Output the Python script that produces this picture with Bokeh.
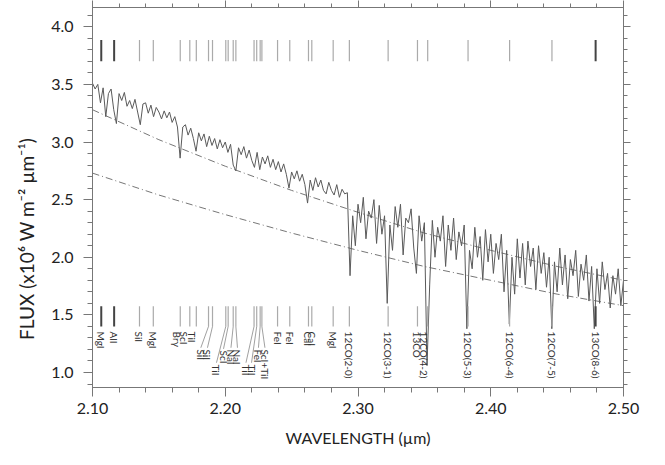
import math
from bokeh.plotting import figure
from bokeh.models import (Range1d, LinearAxis, SingleIntervalTicker,
                          NumeralTickFormatter, ColumnDataSource,
                          CustomJSTickFormatter)
from bokeh.core.properties import value
from bokeh.embed import file_html
from bokeh.resources import INLINE

# ---------------- data ----------------
wave_start = 2.100
wave_step = 0.002
flux = [3.51, 3.46, 3.50, 3.34, 3.47, 3.22, 3.42, 3.46, 3.28, 3.16,
        3.42, 3.36, 3.43, 3.31, 3.36, 3.29, 3.37, 3.26, 3.15, 3.33,
        3.34, 3.25, 3.32, 3.22, 3.30, 3.26, 3.20, 3.27, 3.21, 3.26,
        3.17, 3.22, 3.13, 2.86, 3.13, 3.15, 3.06, 3.12, 3.03, 2.92,
        3.08, 3.01, 3.07, 2.96, 3.05, 2.97, 3.03, 2.94, 3.02, 2.95,
        3.00, 2.91, 2.98, 2.80, 2.75, 2.95, 2.89, 2.96, 2.86, 2.93,
        2.84, 2.78, 2.91, 2.76, 2.87, 2.81, 2.88, 2.78, 2.85, 2.76,
        2.83, 2.74, 2.81, 2.72, 2.60, 2.74, 2.68, 2.75, 2.66, 2.72,
        2.63, 2.47, 2.67, 2.58, 2.69, 2.61, 2.67, 2.58, 2.55, 2.65,
        2.58, 2.54, 2.63, 2.52, 2.59, 2.55,
        2.56, 1.84, 2.36, 2.10, 2.46, 2.30, 2.52, 2.16, 2.40, 2.34,
        2.50, 2.12, 2.45, 2.20, 2.36, 1.60, 2.28, 2.06, 2.44, 2.26,
        2.46, 2.02, 2.34, 2.30, 2.42, 2.08, 1.86, 2.36, 2.14, 2.30,
        1.06, 1.76, 2.32, 2.00, 2.26, 2.14, 2.36, 1.92, 2.28, 2.06,
        2.34, 1.98, 2.22, 2.10, 2.28, 1.38, 2.06, 1.90, 2.26, 2.00,
        2.18, 1.80, 2.24, 1.96, 2.20, 1.86, 2.12, 1.98, 2.20, 1.70,
        2.06, 1.42, 2.00, 1.68, 2.16, 1.82, 2.12, 1.76, 2.14, 1.92,
        2.08, 1.72, 2.10, 1.86, 2.04, 1.74, 2.00, 1.38, 1.96, 1.70,
        2.08, 1.76, 2.02, 1.64, 1.98, 1.84, 2.06, 1.66, 1.94, 1.80,
        2.02, 1.62, 1.92, 1.38, 1.90, 1.60, 1.96, 1.72, 1.86, 1.56,
        1.84, 1.68, 1.90, 1.58, 1.80]
wave = [round(wave_start + i * wave_step, 4) for i in range(len(flux))]

cont_wave = [2.10, 2.15, 2.20, 2.25, 2.30, 2.35, 2.40, 2.45, 2.50]
cont_upper = [3.28, 3.02, 2.79, 2.58, 2.39, 2.21, 2.06, 1.92, 1.80]
cont_lower = [2.73, 2.54, 2.37, 2.21, 2.06, 1.92, 1.80, 1.68, 1.58]

line_names = ["MgI", "AlI", "SiI", "MgI", "Brγ", "ScI", "TiI", "SiI", "SiI",
              "TiI", "ScI", "NaI", "NaI", "TiI", "TiI", "FeI", "ScI+TiI",
              "FeI", "FeI", "CaI", "CaI", "MgI", "12CO(2-0)", "12CO(3-1)",
              "13CO", "12CO(4-2)", "12CO(5-3)", "12CO(6-4)", "12CO(7-5)",
              "13CO(8-6)"]
line_waves = [2.1066, 2.1163, 2.1354, 2.1458, 2.1661, 2.1733, 2.1782, 2.1874,
              2.1904, 2.2004, 2.2022, 2.2060, 2.2080, 2.2217, 2.2237, 2.2263,
              2.2276, 2.2394, 2.2486, 2.2627, 2.2652, 2.2813, 2.2935, 2.3227,
              2.3448, 2.3525, 2.3829, 2.4142, 2.4461, 2.4790]
strong_lines = ["MgI", "AlI", "13CO(8-6)"]

# ---------------- layout of the line labels ----------------
label_x = [2.1066, 2.1163, 2.1354, 2.1458, 2.1635, 2.1693, 2.1753, 2.1816,
           2.1866, 2.1934, 2.1987, 2.2043, 2.2092, 2.2156, 2.2198, 2.2250,
           2.2299, 2.2394, 2.2486, 2.2620, 2.2657, 2.2813, 2.2935, 2.3227,
           2.3441, 2.3499, 2.3829, 2.4142, 2.4461, 2.4790]
label_top = [1.355] * len(line_names)
for nm_i, top in [(7, 1.20), (8, 1.20), (9, 1.07), (10, 1.19), (11, 1.20),
                  (12, 1.20), (13, 1.07), (14, 1.07), (15, 1.20), (16, 1.20)]:
    label_top[nm_i] = top

FONT = "Lato"
dark = {0, 1, len(line_names) - 1}

p = figure(width=655, height=455, x_range=Range1d(2.10, 2.50),
           y_range=Range1d(0.87, 4.167), output_backend="svg",
           toolbar_location=None, min_border_left=92, min_border_right=32,
           min_border_top=6, min_border_bottom=68)
p.xgrid.visible = False
p.ygrid.visible = False
p.outline_line_color = "#777777"
p.background_fill_color = "white"
p.border_fill_color = "white"

# continua
p.line(cont_wave, cont_upper, line_color="#777777", line_width=1,
       line_dash="7 3 1 3")
p.line(cont_wave, cont_lower, line_color="#777777", line_width=1,
       line_dash="7 3 1 3")

# spectrum
p.line(wave, flux, line_color="#5a5a5a", line_width=1)

# line markers (top and bottom)
cols = ["#444444" if i in dark else "#aaaaaa" for i in range(len(line_names))]
wids = [2.0 if i in dark else 1.2 for i in range(len(line_names))]
msrc = ColumnDataSource(dict(x=line_waves, c=cols, w=wids))
p.segment(x0="x", x1="x", y0=3.70, y1=3.885, line_color="c", line_width="w",
          source=msrc)
p.segment(x0="x", x1="x", y0=1.40, y1=1.575, line_color="c", line_width="w",
          source=msrc)

# leader lines for crowded labels
lx0, lx1, ly0, ly1 = [], [], [], []
for i in range(len(line_names)):
    if label_top[i] < 1.3:
        lx0.append(line_waves[i]); ly0.append(1.40)
        lx1.append(label_x[i]); ly1.append(label_top[i] + 0.015)
p.segment(x0=lx0, x1=lx1, y0=ly0, y1=ly1, line_color="#888888", line_width=0.8)

tsrc = ColumnDataSource(dict(x=label_x, y=label_top, t=line_names))
p.text(x="x", y="y", text="t", source=tsrc, angle=-math.pi / 2,
       text_align="left", text_baseline="middle", text_font=value(FONT),
       text_font_size="10px", text_color="#333333")

# axes
for ax in (p.xaxis[0], p.yaxis[0]):
    ax.axis_line_color = "#777777"
    ax.major_tick_line_color = "#777777"
    ax.minor_tick_line_color = "#777777"
    ax.major_label_text_font = FONT
    ax.major_label_text_font_size = "16px"
    ax.major_label_text_color = "#222222"
    ax.axis_label_text_font = FONT
    ax.axis_label_text_font_style = "normal"
    ax.axis_label_text_color = "#222222"
    ax.major_tick_in = 0
    ax.minor_tick_in = 0
    ax.major_tick_out = 9
    ax.minor_tick_out = 5

p.xaxis.ticker = SingleIntervalTicker(interval=0.1, num_minor_ticks=5)
p.xaxis.formatter = NumeralTickFormatter(format="0.00")
p.xaxis.axis_label = "WAVELENGTH (µm)"
p.xaxis.axis_label_text_font_size = "16px"
p.xaxis.major_label_standoff = 6
p.xaxis.axis_label_standoff = 11

p.yaxis.ticker = SingleIntervalTicker(interval=0.5, num_minor_ticks=5)
p.yaxis.formatter = NumeralTickFormatter(format="0.0")
p.yaxis.axis_label = "FLUX (x10⁶ W m⁻² µm⁻¹)" + "\u00a0" * 17
p.yaxis.axis_label_text_font_size = "19px"
p.yaxis.major_label_standoff = 10
p.yaxis.axis_label_standoff = 10

blank = CustomJSTickFormatter(code="return ''")
right = LinearAxis(ticker=SingleIntervalTicker(interval=0.5, num_minor_ticks=5),
                   formatter=blank)
top = LinearAxis(ticker=SingleIntervalTicker(interval=0.1, num_minor_ticks=5),
                 formatter=blank)
for ax in (right, top):
    ax.axis_line_color = "#777777"
    ax.major_tick_line_color = "#777777"
    ax.minor_tick_line_color = "#777777"
    ax.major_label_standoff = 0
    ax.axis_label_standoff = 0
    ax.major_tick_in = 0
    ax.minor_tick_in = 0
    ax.major_tick_out = 7
    ax.minor_tick_out = 4
p.add_layout(right, "right")
p.add_layout(top, "above")

open("out.html", "w").write(file_html(p, INLINE))
